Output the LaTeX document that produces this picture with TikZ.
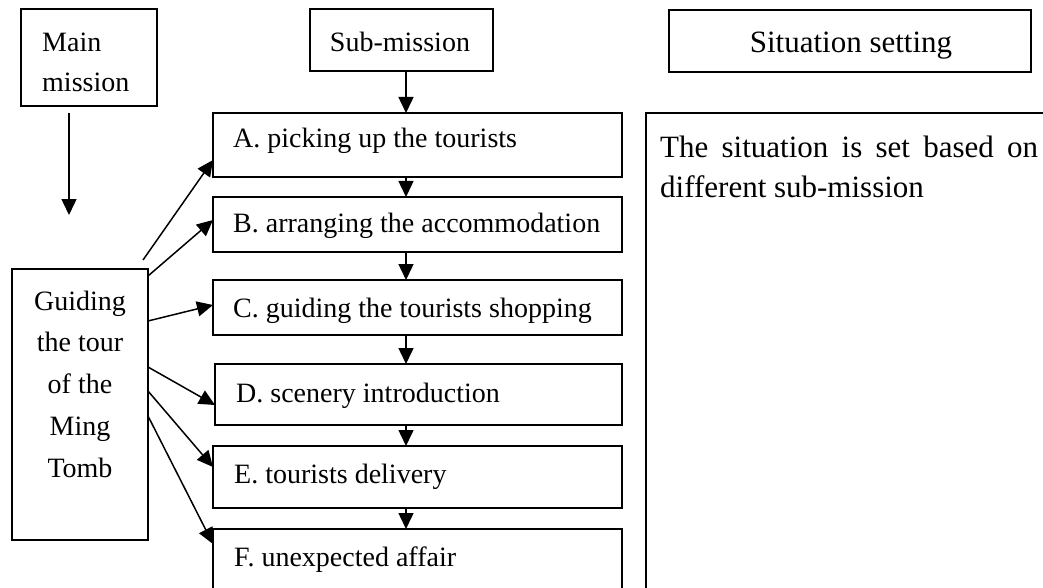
\documentclass[tikz,border=0pt]{standalone}
\usepackage{fontspec}
\setmainfont{Liberation Serif}
\usetikzlibrary{arrows.meta}
\begin{document}
\begin{tikzpicture}[x=1pt,y=-1pt,
  box/.style={draw=black, line width=1.6pt, inner sep=0pt, outer sep=0pt, anchor=north west},
  lbl/.style={inner sep=0pt, font=\fontsize{28}{40}\selectfont},
  rlbl/.style={inner sep=0pt, font=\fontsize{31}{40}\selectfont},
  arr/.style={line width=1.5pt, -{Triangle[length=16pt,width=15pt]}}]
\useasboundingbox (0,0) rectangle (1043,588);
% boxes
\node[box, minimum width=136pt, minimum height=97pt] (M) at (21,9) {};
\node[box, minimum width=136pt, minimum height=271pt] (G) at (12,269) {};
\node[box, minimum width=183pt, minimum height=62pt] (S) at (310,9) {};
\node[box, minimum width=362pt, minimum height=62pt] (T) at (669,10) {};
\node[box, minimum width=430pt, minimum height=500pt] (R) at (646,113) {};
\node[box, minimum width=409pt, minimum height=64pt] (A) at (213,113) {};
\node[box, minimum width=409pt, minimum height=55pt] (B) at (213,197) {};
\node[box, minimum width=409pt, minimum height=55pt] (C) at (213,280) {};
\node[box, minimum width=407pt, minimum height=61pt] (D) at (215,364) {};
\node[box, minimum width=409pt, minimum height=62pt] (E) at (213,446) {};
\node[box, minimum width=409pt, minimum height=80pt] (F) at (213,529) {};
% texts (multi-line nodes anchored at the last line's baseline)
\node[lbl, anchor=base west, align=left] (tM) at (42,92) {Main\\mission};
\node[lbl, anchor=base, align=center, font=\fontsize{28}{41.7}\selectfont] (tG) at (80,477) {Guiding\\the tour\\of the\\Ming\\Tomb};
\node[lbl, anchor=base] (tS) at (400,52) {Sub-mission};
\node[rlbl, anchor=base] (tT) at (851,53) {Situation setting};
\node[rlbl, anchor=base west, align=left] (tR) at (660,197) {\makebox[378pt][s]{The situation is set based on}\\different sub-mission};
\node[lbl, anchor=base west] (tA) at (233,148) {A. picking up the tourists};
\node[lbl, anchor=base west] (tB) at (233,232) {B. arranging the accommodation};
\node[lbl, anchor=base west] (tC) at (233,317) {C. guiding the tourists shopping};
\node[lbl, anchor=base west] (tD) at (236,402) {D. scenery introduction};
\node[lbl, anchor=base west] (tE) at (234,483) {E. tourists delivery};
\node[lbl, anchor=base west] (tF) at (234,566) {F. unexpected affair};
% main arrow
\coordinate (mEnd) at (69,215);
\draw[arr] ([xshift=-20pt,yshift=-7pt]M.south) -- (mEnd);
% vertical chain
\draw[arr] ([xshift=4.5pt]S.south) -- ([xshift=-11.5pt]A.north);
\draw[arr] ([xshift=-11.5pt]A.south) -- ([xshift=-11.5pt]B.north);
\draw[arr] ([xshift=-11.5pt]B.south) -- ([xshift=-11.5pt]C.north);
\draw[arr] ([xshift=-11.5pt]C.south) -- ([xshift=-12.5pt]D.north);
\draw[arr] ([xshift=-12.5pt]D.south) -- ([xshift=-11.5pt]E.north);
\draw[arr] ([xshift=-11.5pt]E.south) -- ([xshift=-11.5pt]F.north);
% diagonal arrows from G
\draw[arr] ([shift={(-5pt,9pt)}]G.north east) -- ([yshift=-15pt]A.west);
\draw[arr] ([yshift=-7pt]G.north east) -- ([yshift=4.5pt]B.west);
\draw[arr] ([yshift=-52pt]G.north east) -- ([yshift=2.5pt]C.west);
\draw[arr] ([yshift=-98pt]G.north east) -- ([yshift=-10.5pt]D.west);
\draw[arr] ([yshift=-122pt]G.north east) -- ([yshift=10pt]E.west);
\draw[arr] ([yshift=-147pt]G.north east) -- ([yshift=-15pt]F.north west);
\end{tikzpicture}
\end{document}
